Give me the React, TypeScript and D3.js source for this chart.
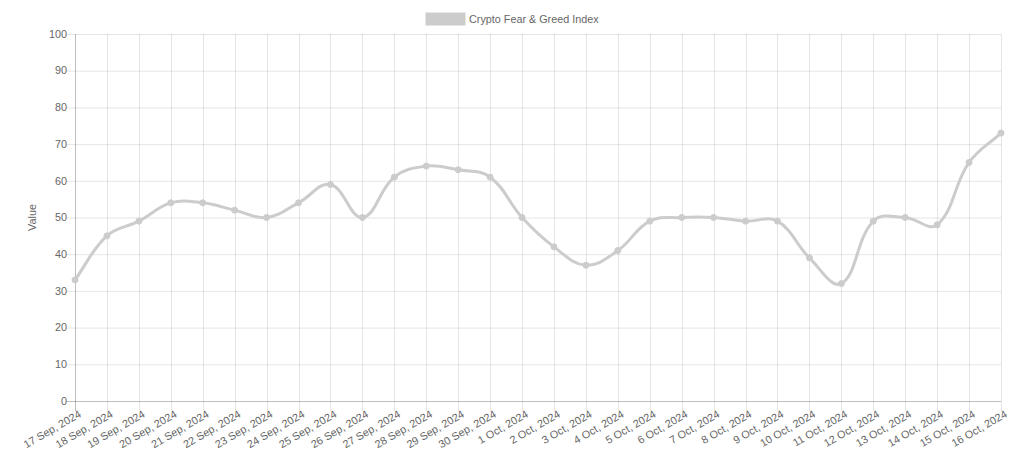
import { useEffect, useRef } from 'react';
import * as d3 from 'd3';

const dates = [
  '17 Sep, 2024', '18 Sep, 2024', '19 Sep, 2024', '20 Sep, 2024', '21 Sep, 2024',
  '22 Sep, 2024', '23 Sep, 2024', '24 Sep, 2024', '25 Sep, 2024', '26 Sep, 2024',
  '27 Sep, 2024', '28 Sep, 2024', '29 Sep, 2024', '30 Sep, 2024', '1 Oct, 2024',
  '2 Oct, 2024', '3 Oct, 2024', '4 Oct, 2024', '5 Oct, 2024', '6 Oct, 2024',
  '7 Oct, 2024', '8 Oct, 2024', '9 Oct, 2024', '10 Oct, 2024', '11 Oct, 2024',
  '12 Oct, 2024', '13 Oct, 2024', '14 Oct, 2024', '15 Oct, 2024', '16 Oct, 2024',
];

const values = [
  33, 45, 49, 54, 54, 52, 50, 54, 59, 50,
  61, 64, 63, 61, 50, 42, 37, 41, 49, 50,
  50, 49, 49, 39, 32, 49, 50, 48, 65, 73,
];

const yTicks = [0, 10, 20, 30, 40, 50, 60, 70, 80, 90, 100];

const seriesName = 'Crypto Fear & Greed Index';
const W = 1024;
const H = 452;
const FONT = '"Liberation Sans", Arial, Helvetica, sans-serif';
const FS = 10.8;

// Chart.js style bezier spline (tension 0.4)
function splinePath(pts: [number, number][], tension = 0.4) {
  const p = d3.path();
  const cps = pts.map((cur, i) => {
    const prev = pts[i - 1] || cur;
    const next = pts[i + 1] || cur;
    const d01 = Math.hypot(cur[0] - prev[0], cur[1] - prev[1]);
    const d12 = Math.hypot(next[0] - cur[0], next[1] - cur[1]);
    let s01 = d01 / (d01 + d12);
    let s12 = d12 / (d01 + d12);
    if (isNaN(s01)) s01 = 0;
    if (isNaN(s12)) s12 = 0;
    const fa = tension * s01;
    const fb = tension * s12;
    return {
      prev: [cur[0] - fa * (next[0] - prev[0]), cur[1] - fa * (next[1] - prev[1])],
      next: [cur[0] + fb * (next[0] - prev[0]), cur[1] + fb * (next[1] - prev[1])],
    };
  });
  pts.forEach((pt, i) => {
    if (i === 0) p.moveTo(pt[0], pt[1]);
    else {
      const a = cps[i - 1].next;
      const b = cps[i].prev;
      p.bezierCurveTo(a[0], a[1], b[0], b[1], pt[0], pt[1]);
    }
  });
  return p.toString();
}

export default function App() {
  const ref = useRef<SVGSVGElement | null>(null);

  useEffect(() => {
    document.body.style.margin = '0';
    if (!ref.current) return;
    const svg = d3.select(ref.current);
    svg.selectAll('*').remove();

    const left = 75;
    const right = 1001;
    const top = 34;
    const bottom = 401;

    const x = d3.scalePoint<string>().domain(dates).range([left, right]);
    const y = d3.scaleLinear().domain([0, 100]).range([bottom, top]);

    const grid = svg.append('g');
    // horizontal grid + tick marks
    yTicks.forEach((t) => {
      grid
        .append('line')
        .attr('x1', left - 9)
        .attr('x2', right)
        .attr('y1', y(t) + 0.5)
        .attr('y2', y(t) + 0.5)
        .attr('stroke', t === 0 ? 'rgba(0,0,0,0.25)' : 'rgba(0,0,0,0.1)');
      grid
        .append('text')
        .attr('x', left - 8)
        .attr('y', y(t))
        .attr('dy', '0.35em')
        .attr('text-anchor', 'end')
        .attr('font-family', FONT)
        .attr('font-size', FS)
        .attr('fill', '#666')
        .text(t);
    });
    // vertical grid + tick marks
    dates.forEach((d, i) => {
      const xx = Math.round(x(d)!) + 0.5;
      grid
        .append('line')
        .attr('x1', xx)
        .attr('x2', xx)
        .attr('y1', top)
        .attr('y2', bottom + 10)
        .attr('stroke', i === 0 ? 'rgba(0,0,0,0.25)' : 'rgba(0,0,0,0.1)');
      grid
        .append('text')
        .attr('transform', `translate(${x(d)! + 5},${bottom + 12}) rotate(-30)`)
        .attr('text-anchor', 'end')
        .attr('dy', '0.35em')
        .attr('font-family', FONT)
        .attr('font-size', FS)
        .attr('fill', '#666')
        .text(d);
    });

    svg
      .append('text')
      .attr('transform', `translate(36,${(top + bottom) / 2}) rotate(-90)`)
      .attr('text-anchor', 'middle')
      .attr('font-family', FONT)
      .attr('font-size', FS)
      .attr('fill', '#666')
      .text('Value');

    const pts: [number, number][] = values.map((v, i) => [x(dates[i])!, y(v)]);

    svg
      .append('path')
      .attr('d', splinePath(pts))
      .attr('fill', 'none')
      .attr('stroke', 'rgba(204,204,204,1)')
      .attr('stroke-width', 3);

    svg
      .append('g')
      .selectAll('circle')
      .data(pts)
      .enter()
      .append('circle')
      .attr('cx', (d) => d[0])
      .attr('cy', (d) => d[1])
      .attr('r', 3)
      .attr('fill', 'rgba(204,204,204,1)')
      .attr('stroke', 'rgba(204,204,204,1)')
      .attr('stroke-width', 1);

    // legend
    const lg = svg.append('g');
    lg.append('rect')
      .attr('x', 426)
      .attr('y', 13)
      .attr('width', 39)
      .attr('height', 12)
      .attr('fill', 'rgba(204,204,204,1)')
      .attr('stroke', 'rgba(204,204,204,1)')
      .attr('stroke-width', 1);
    lg.append('text')
      .attr('x', 469)
      .attr('y', 19)
      .attr('dy', '0.35em')
      .attr('font-family', FONT)
      .attr('font-size', FS)
      .attr('fill', '#666')
      .text(seriesName);
  }, []);

  return <svg ref={ref} width={W} height={H} style={{ display: 'block' }} />;
}
